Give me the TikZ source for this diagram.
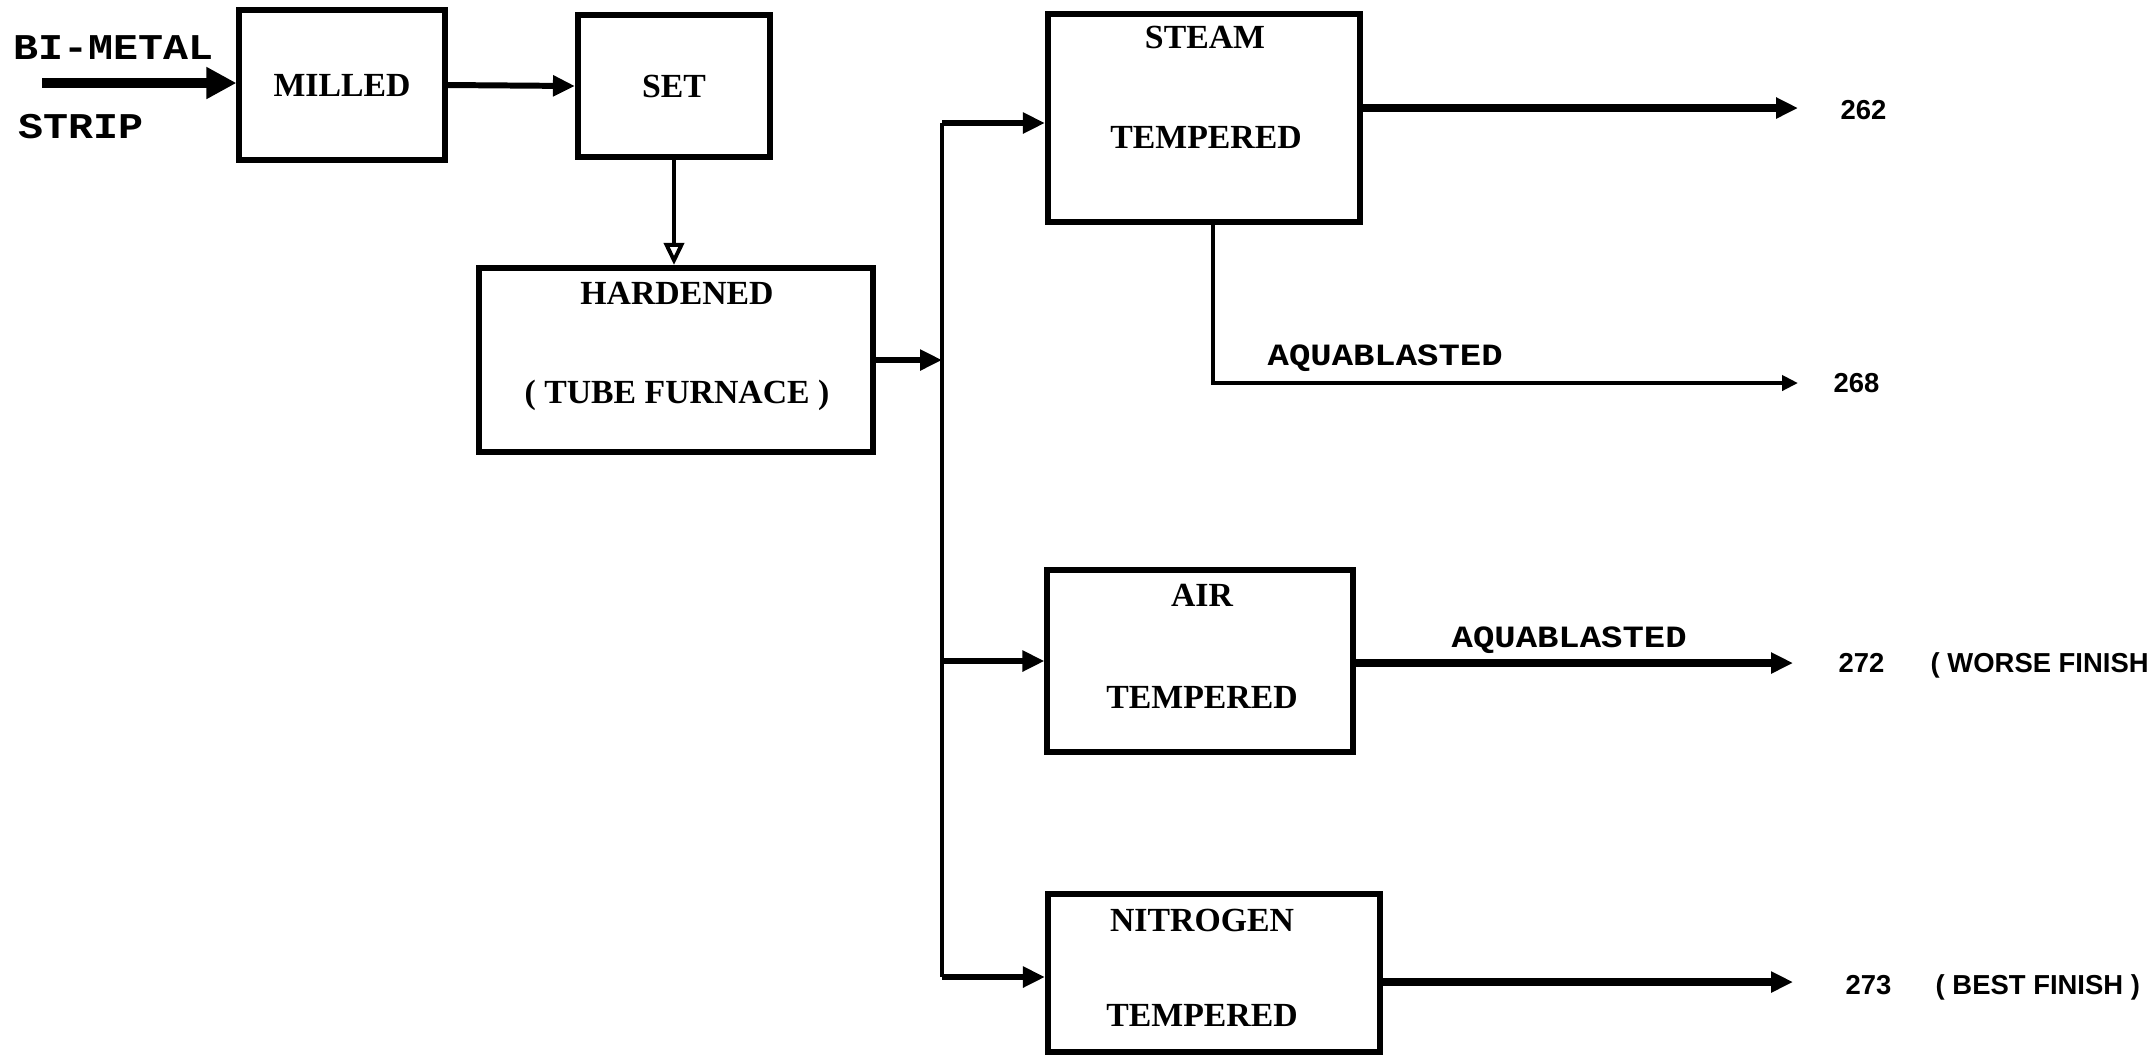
\documentclass[tikz,border=0pt]{standalone}
\usepackage{fontspec}
\setmainfont{Liberation Serif}
\setsansfont{Liberation Sans}
\newfontfamily\typefont[FakeStretch=1.15]{Liberation Mono}
\usepackage{tikz}
\usetikzlibrary{arrows.meta,calc,positioning}
\tikzset{%
	block/.style    = {draw, rectangle, line width=1.7pt, inner sep=0pt, font=\fontsize{9.6}{11}\selectfont\bfseries}, % Process box
	caption/.style  = {inner sep=0pt, font=\fontsize{9.6}{11}\selectfont\bfseries}, % Text in a box
	tag/.style      = {inner sep=0pt, anchor=west, font=\typefont\fontsize{8.8}{10}\selectfont\bfseries}, % Typed label
	num/.style      = {inner sep=0pt, anchor=west, font=\sffamily\fontsize{7.8}{9}\selectfont\bfseries}, % Result
	flow/.style     = {line width=1.7pt, -{Triangle[length=0.22cm,width=0.2cm]}}, % Arrow
	waypoint/.style = {coordinate},
}
\begin{document}
\begin{tikzpicture}[x=0.01cm, y=-0.01cm]
	\clip (0,0) rectangle (2152,1056);
	% boxes
	\node[block, minimum width=2.05cm, minimum height=1.50cm] (milled) at (342,85) {MILLED};
	\node[block, minimum width=1.92cm, minimum height=1.42cm] (set) at (674,86) {SET};
	\node[block, minimum width=3.93cm, minimum height=1.84cm] (hard) at (676,360) {};
	\node[block, minimum width=3.12cm, minimum height=2.07cm] (steam) at (1204,118) {};
	\node[block, minimum width=3.05cm, minimum height=1.82cm] (air) at (1200,661) {};
	\node[block, minimum width=3.32cm, minimum height=1.57cm] (nitro) at (1214,973) {};
	\node[caption] (hardA) at (677,293) {HARDENED};
	\node[caption] (hardB) at (677,395) {( TUBE FURNACE )};
	\node[caption] (steamA) at (1205,37) {STEAM};
	\node[caption] (steamB) at (1206,137) {TEMPERED};
	\node[caption] (airA) at (1202,595) {AIR};
	\node[caption] (airB) at (1202,697) {TEMPERED};
	\node[caption] (nitroA) at (1202,920) {NITROGEN};
	\node[caption] (nitroB) at (1202,1015) {TEMPERED};
	% input
	\node[tag, font=\typefont\fontsize{10.3}{12}\selectfont\bfseries] (bimetal) at (13,48) {BI-METAL};
	\node[tag, font=\typefont\fontsize{10.3}{12}\selectfont\bfseries] (strip) at (18,127) {STRIP};
	\node[waypoint] (in) at (42,83) {};
	\draw[line width=2.8pt, -{Triangle[length=0.3cm,width=0.3cm]}] (in) -- (in -| milled.west);
	\draw[flow] (milled.east) -- (set.west);
	\draw[line width=1.1pt, -{Triangle[open,length=0.22cm,width=0.2cm]}] (set.south) -- (set.south |- hard.north);
	% bus
	\node[waypoint] (bustop) at (942,123) {};
	\node[waypoint] (busbot) at (942,977) {};
	\draw[line width=1.4pt] (bustop) -- (busbot);
	\draw[flow] (hard.east) -- (hard.east -| bustop);
	\draw[flow] (bustop) -- (bustop -| steam.west);
	\draw[flow] (bustop |- air.west) -- (air.west);
	\draw[flow] (busbot) -- (busbot -| nitro.west);
	% outputs
	\node[waypoint] (r262) at (1798,108) {};
	\node[waypoint] (r268) at (1798,383) {};
	\node[waypoint] (r272) at (1793,663) {};
	\node[waypoint] (r273) at (1793,982) {};
	\draw[flow, line width=2.2pt] (steam.east |- r262) -- (r262);
	\draw[line width=1.4pt, -{Triangle[length=0.16cm,width=0.15cm]}] ([xshift=0.09cm]steam.south) |- (r268);
	\draw[flow, line width=2.2pt] (air.east |- r272) -- (r272);
	\draw[flow, line width=2.2pt] (nitro.east |- r273) -- (r273);
	\node[tag] (aqua1) at (1267,358) {AQUABLASTED};
	\node[tag] (aqua2) at (1451,640) {AQUABLASTED};
	\node[num] (n262) at (1840,110) {262};
	\node[num] (n268) at (1833,383) {268};
	\node[num] (n272) at (1838,663) {272};
	\node[num] (n273) at (1845,985) {273};
	\node[num] (worse) at (1930,665) {( WORSE FINISH )};
	\node[num] (best) at (1935,987) {( BEST FINISH )};
\end{tikzpicture}
\end{document}
